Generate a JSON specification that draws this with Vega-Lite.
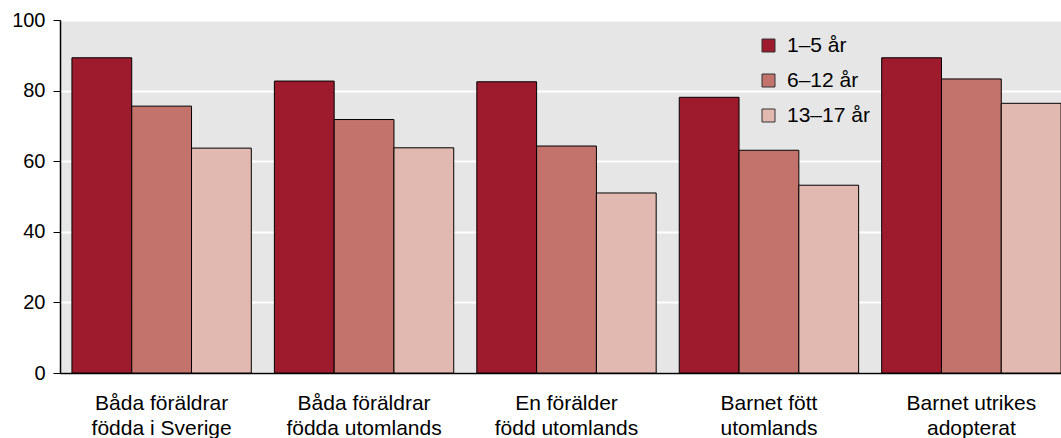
{
  "$schema": "https://vega.github.io/schema/vega-lite/v6.json",
  "autosize": "none",
  "width": 1013,
  "height": 353,
  "padding": {"left": 60, "top": 20, "right": 0, "bottom": 65},
  "background": "white",
  "config": {
    "font": "Liberation Sans",
    "view": {"fill": "#e6e6e6", "stroke": "black", "strokeWidth": 1}
  },
  "data": {
    "values": [
      {"grupp": "Båda föräldrar|födda i Sverige", "alder": "1–5 år", "varde": 89.3},
      {"grupp": "Båda föräldrar|födda i Sverige", "alder": "6–12 år", "varde": 75.6},
      {"grupp": "Båda föräldrar|födda i Sverige", "alder": "13–17 år", "varde": 63.7},
      {"grupp": "Båda föräldrar|födda utomlands", "alder": "1–5 år", "varde": 82.7},
      {"grupp": "Båda föräldrar|födda utomlands", "alder": "6–12 år", "varde": 71.8},
      {"grupp": "Båda föräldrar|födda utomlands", "alder": "13–17 år", "varde": 63.8},
      {"grupp": "En förälder|född utomlands", "alder": "1–5 år", "varde": 82.5},
      {"grupp": "En förälder|född utomlands", "alder": "6–12 år", "varde": 64.3},
      {"grupp": "En förälder|född utomlands", "alder": "13–17 år", "varde": 51.0},
      {"grupp": "Barnet fött|utomlands", "alder": "1–5 år", "varde": 78.1},
      {"grupp": "Barnet fött|utomlands", "alder": "6–12 år", "varde": 63.1},
      {"grupp": "Barnet fött|utomlands", "alder": "13–17 år", "varde": 53.2},
      {"grupp": "Barnet utrikes|adopterat", "alder": "1–5 år", "varde": 89.3},
      {"grupp": "Barnet utrikes|adopterat", "alder": "6–12 år", "varde": 83.3},
      {"grupp": "Barnet utrikes|adopterat", "alder": "13–17 år", "varde": 76.4}
    ]
  },
  "mark": {"type": "bar", "stroke": "black", "strokeWidth": 1},
  "encoding": {
    "x": {
      "field": "grupp",
      "type": "nominal",
      "sort": null,
      "scale": {"paddingInner": 0.114, "paddingOuter": 0.059},
      "axis": {
        "title": null,
        "labelAngle": 0,
        "labelExpr": "split(datum.label, '|')",
        "labelFontSize": 21,
        "labelColor": "black",
        "labelLineHeight": 25,
        "labelBaseline": "top",
        "labelPadding": 19,
        "ticks": false,
        "domainColor": "black",
        "domainWidth": 1.5,
        "grid": false
      }
    },
    "xOffset": {"field": "alder", "type": "nominal", "sort": ["1–5 år", "6–12 år", "13–17 år"], "scale": {"paddingInner": 0, "paddingOuter": 0}},
    "y": {
      "field": "varde",
      "type": "quantitative",
      "scale": {"domain": [0, 100], "nice": false},
      "axis": {
        "title": null,
        "values": [0, 20, 40, 60, 80, 100],
        "labelFontSize": 20,
        "labelColor": "black",
        "labelPadding": 8,
        "tickSize": 7,
        "tickColor": "black",
        "domainColor": "black",
        "domainWidth": 1.5,
        "gridColor": "white",
        "gridWidth": 2
      }
    },
    "color": {
      "field": "alder",
      "type": "nominal",
      "sort": ["1–5 år", "6–12 år", "13–17 år"],
      "scale": {"domain": ["1–5 år", "6–12 år", "13–17 år"], "range": ["#9e1b2e", "#c4736c", "#e2b9b1"]},
      "legend": {
        "title": null,
        "orient": "none",
        "legendX": 698,
        "legendY": 15,
        "symbolType": "square",
        "symbolSize": 169,
        "symbolStrokeColor": "#333333",
        "symbolStrokeWidth": 1,
        "labelFontSize": 21,
        "labelColor": "black",
        "labelOffset": 8,
        "rowPadding": 13
      }
    }
  }
}
